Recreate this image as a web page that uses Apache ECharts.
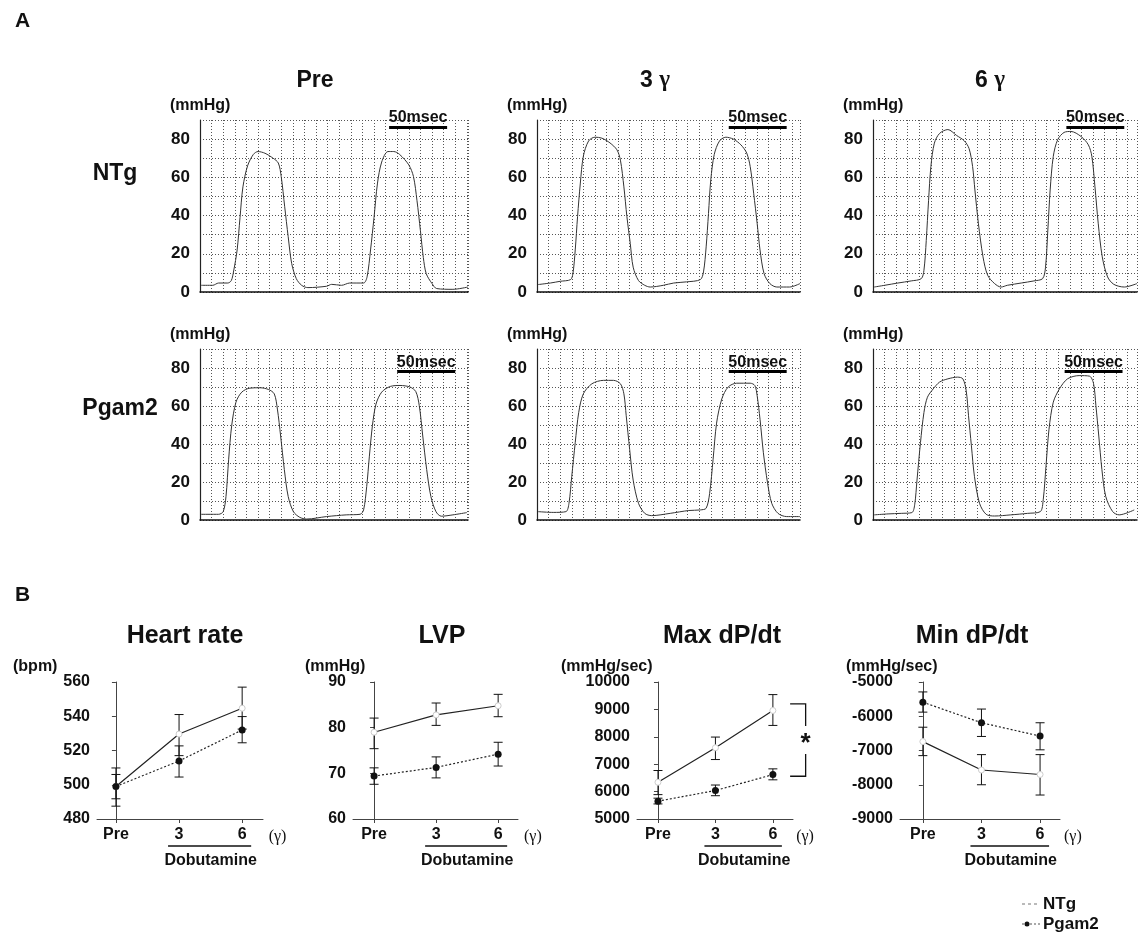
<!DOCTYPE html>
<html>
<head>
<meta charset="utf-8">
<script src="https://cdn.jsdelivr.net/npm/echarts@6/dist/echarts.min.js"></script>
<style>
  html, body { margin: 0; padding: 0; background: #fff; }
  #main { width: 1139px; height: 939px; }
</style>
</head>
<body>
<div id="main"></div>
<script>
// ---- Panel A: LV pressure traces, [msec, mmHg] ----
var ntgPre = [[1,3.5],[11,3.5],[16,4.7],[24,4.7],[27,6],[29,11],[32,22],[34.5,39],[37,55],[41,66],[46,72],[50,73.5],[56,72.6],[63,70],[67.5,67.5],[70,60.4],[73,44.6],[76,29],[79,15],[83,7],[87.6,3.5],[93,2.3],[109,3],[113.5,4],[122,3.5],[129,4.7],[141,4.7],[144,7.9],[147,22],[150,39],[153,57],[156.6,68],[162,73.5],[167,73.5],[172,72],[180,66.5],[184,60.4],[187,48],[190,32],[192.5,18],[195,9.6],[200,4.4],[204,1.8],[218,1.4],[231,2.6]];
var ntg3 = [[1,3.9],[11.5,4.7],[20,5.6],[29,6.5],[31,9.6],[33,22],[35,39.4],[37.4,57],[40,71],[44.5,79],[50,81],[56,80.5],[63,78],[69,74.4],[72,69],[75,55],[77.6,39.4],[80.5,25.4],[83,13],[87.6,6],[93,3.5],[97.7,2.6],[109,3.5],[118,4.7],[129,5.3],[141,6.5],[143.7,10.5],[146,23.6],[148,41],[150,58.7],[153,72],[157.5,79],[163,81],[169.5,80],[176,77],[181,72.7],[184,65.7],[187,51.7],[190,36],[192.5,22],[196,9.6],[201,4.4],[207,2.6],[218,2.6],[227,4.4]];
var ntg6 = [[1,2.6],[10,3.5],[21.5,4.7],[33,5.8],[41.7,7],[44,11.4],[46,27],[48,48],[50,65.7],[53,77.9],[57.5,83],[64.7,85],[72,82],[79,79],[83,75],[86,65.7],[88,53.4],[91,36],[95,18.4],[99,8.8],[105,4.4],[110.6,2.6],[116,3.5],[128,4.7],[139,5.8],[146.5,7],[149,13],[151,32.4],[153,53.4],[155.7,71],[159.5,79.7],[165,83.5],[171,84],[179.6,81.4],[186,77],[189,71],[191.7,55],[194.5,36],[198,18.4],[202.6,7.9],[208,4],[217,2.6],[228,4.4]];
var pgamPre = [[1,3],[16,3],[20,4.4],[22.4,12.4],[24.7,32],[27.3,49.6],[31,62],[36,67.3],[43,69.4],[51.7,69.6],[59,68.7],[64,66.4],[66.7,58.4],[69.5,44.2],[72.7,26.5],[76,12.4],[80.5,4.4],[86,1.4],[92,0.5],[109,1.8],[126,2.7],[138,3],[141,5.3],[143.7,17.7],[146,33.6],[148.6,49.6],[151.7,61],[156.6,67.3],[164,70.3],[172.4,70.8],[181,70],[186,67.6],[189,60.2],[192,44.2],[195.4,26.5],[199,12.4],[203.4,4.4],[208,2],[218,2.7],[230,3.9]];
var pgam3 = [[1,4.4],[14,4],[25,4.4],[27.6,8.8],[30,23],[33,40.7],[36,56.6],[40,66.4],[47.4,71.7],[57.5,73.5],[66,73.5],[72,71.7],[75,66.4],[77,54.9],[80,37],[83,21],[87.6,8.8],[93,3.5],[99,2.3],[115,3.5],[131,5],[141,5.3],[146,6.2],[149,14],[152,32],[155,51],[159.5,63.7],[165,70],[172.4,72],[184,72],[188,70.8],[190,65.5],[192.5,53],[195.4,35.4],[199,19.5],[202.6,8.8],[208,3.5],[215.5,1.8],[227,1.8]];
var pgam6 = [[1,2.7],[13,3.2],[24.4,3.5],[33.6,3.9],[36,8],[38,21],[41,40.7],[44,56.6],[47,64.6],[52,69],[57.5,72.6],[64.7,74.3],[73,75.2],[77.6,74.3],[80.5,68],[82.5,54.9],[85,39],[87.6,23],[92,8.8],[97.7,3],[105,2.1],[119,2.7],[133.6,3.5],[144.5,4.4],[147,10.6],[149.4,28.3],[152,47.8],[155.7,62],[161,69],[168,74.3],[178,76],[187,75.7],[190.5,71.7],[192.5,60.2],[195,44.2],[197.7,26.5],[201,12.4],[207,4.4],[212.6,2.7],[225.6,5.3]];

// ---- Panel B: hemodynamics, mean and error-bar ends ----
var doses = ['Pre', '3', '6'];
var hrNTg = [499, 529.6, 544.7], hrNTgLo = [487.5, 517, 532.5], hrNTgHi = [509.8, 541, 557];
var hrPgam = [499, 513.9, 532], hrPgamLo = [491.8, 504.5, 524.5], hrPgamHi = [506, 522.7, 539.8];
var lvpNTg = [79.0, 82.8, 84.8], lvpNTgLo = [75.4, 80.5, 82.4], lvpNTgHi = [82.1, 85.4, 87.3];
var lvpPgam = [69.4, 71.3, 74.2], lvpPgamLo = [67.6, 69.0, 71.6], lvpPgamHi = [71.2, 73.6, 76.8];
var maxNTg = [6340, 7600, 8960], maxNTgLo = [5890, 7170, 8415], maxNTgHi = [6770, 7990, 9540];
var maxPgam = [5650, 6040, 6620], maxPgamLo = [5550, 5850, 6430], maxPgamHi = [5760, 6240, 6830];
var minNTg = [-6740, -7570, -7700], minNTgLo = [-7150, -8000, -8300], minNTgHi = [-6320, -7120, -7120];
var minPgam = [-5590, -6190, -6580], minPgamLo = [-5880, -6590, -6980], minPgamHi = [-5290, -5790, -6190];

var FONT = '"Liberation Sans", Arial, sans-serif';
var chart = echarts.init(document.getElementById('main'));

var grids = [], xAxes = [], yAxes = [], series = [], titles = [];

// panel A layout
var colLeft = [200, 537, 873], colWidth = [268, 263, 264], colMax = [231, 227, 228];
var rowTop = [120, 349], rowHeight = [172, 171];
var traces = [[ntgPre, ntg3, ntg6], [pgamPre, pgam3, pgam6]];
var barStart = [[163, 165.5, 167], [170, 165.5, 165.5]];
var barLevel = [86.3, 78.3];

for (var r = 0; r < 2; r++) {
  for (var c = 0; c < 3; c++) {
    var gi = grids.length;
    grids.push({left: colLeft[c], top: rowTop[r], width: colWidth[c], height: rowHeight[r]});
    xAxes.push({
      type: 'value', gridIndex: gi, min: 0, max: colMax[c], interval: 10,
      axisLine: {lineStyle: {color: '#111', width: 1.5}}, axisTick: {show: false}, axisLabel: {show: false},
      splitLine: {show: true, lineStyle: {color: '#555', type: [1, 2], width: 1}}
    });
    yAxes.push({
      type: 'value', gridIndex: gi, min: 0, max: 90, interval: 10,
      axisLine: {show: true, lineStyle: {color: '#222', width: 1.2}}, axisTick: {show: false},
      axisLabel: {fontFamily: FONT, fontWeight: 'bold', fontSize: 17, color: '#111', margin: 10,
        formatter: function (v) { return v % 20 === 0 ? String(v) : ''; }},
      splitLine: {show: true, lineStyle: {color: '#555', type: [1, 2], width: 1}}
    });
    series.push({
      type: 'line', xAxisIndex: gi, yAxisIndex: gi, data: traces[r][c],
      symbol: 'none', smooth: 0.3, silent: true,
      lineStyle: {color: '#333', width: 1},
      markLine: {
        silent: true, symbol: 'none', animation: false,
        lineStyle: {color: '#000', width: 3, type: 'solid'},
        label: {show: true, position: 'insideMiddleTop', distance: 1, formatter: '50msec',
          fontFamily: FONT, fontWeight: 'bold', fontSize: 16, color: '#111'},
        data: [[{coord: [barStart[r][c], barLevel[r]]}, {coord: [barStart[r][c] + 50, barLevel[r]]}]]
      }
    });
  }
}

// panel B layout
var bLeft = [97, 353, 637, 900], bWidth = [166, 165, 156, 160];
var bMin = [-0.3, -0.34, -0.365, -0.39], bMax = [2.33, 2.32, 2.35, 2.34];
var yRange = [[480, 560, 20], [60, 90, 10], [5000, 10000, 1000], [-9000, -5000, 1000]];
var bData = [
  [hrNTg, hrNTgLo, hrNTgHi, hrPgam, hrPgamLo, hrPgamHi],
  [lvpNTg, lvpNTgLo, lvpNTgHi, lvpPgam, lvpPgamLo, lvpPgamHi],
  [maxNTg, maxNTgLo, maxNTgHi, maxPgam, maxPgamLo, maxPgamHi],
  [minNTg, minNTgLo, minNTgHi, minPgam, minPgamLo, minPgamHi]
];

function pts(vals) { return vals.map(function (v, i) { return [i, v]; }); }
function bars(lo, hi) { return lo.map(function (v, i) { return [i, v, hi[i]]; }); }
function errRender(params, api) {
  var x = api.value(0);
  var a = api.coord([x, api.value(2)]), b = api.coord([x, api.value(1)]);
  var w = 4.5, st = {stroke: '#111', lineWidth: 1};
  return {type: 'group', children: [
    {type: 'line', shape: {x1: a[0], y1: a[1], x2: b[0], y2: b[1]}, style: st},
    {type: 'line', shape: {x1: a[0] - w, y1: a[1], x2: a[0] + w, y2: a[1]}, style: st},
    {type: 'line', shape: {x1: b[0] - w, y1: b[1], x2: b[0] + w, y2: b[1]}, style: st}
  ]};
}

var bGrid0 = grids.length;
for (var k = 0; k < 4; k++) {
  var g = grids.length;
  grids.push({left: bLeft[k], top: 682, width: bWidth[k], height: 137});
  xAxes.push({
    type: 'value', gridIndex: g, min: bMin[k], max: bMax[k],
    axisLine: {lineStyle: {color: '#444', width: 1}},
    axisTick: {show: true, customValues: [0, 1, 2], length: 4, lineStyle: {color: '#444'}},
    axisLabel: {customValues: [0, 1, 2], fontFamily: FONT, fontWeight: 'bold', fontSize: 16, color: '#111', margin: 8,
      formatter: function (v) { return doses[Math.round(v)]; }},
    splitLine: {show: false}
  });
  yAxes.push({
    type: 'value', gridIndex: g, min: yRange[k][0], max: yRange[k][1], interval: yRange[k][2],
    axisLine: {show: true, lineStyle: {color: '#444', width: 1}},
    axisTick: {show: true, length: 4, lineStyle: {color: '#444'}},
    axisLabel: {fontFamily: FONT, fontWeight: 'bold', fontSize: 16, color: '#111', margin: 7,
      formatter: function (v) { return String(v); }},
    splitLine: {show: false}
  });
  var d = bData[k];
  series.push(
    {type: 'custom', name: 'NTg', xAxisIndex: g, yAxisIndex: g, data: bars(d[1], d[2]), renderItem: errRender, silent: true, z: 3},
    {type: 'custom', name: 'Pgam2', xAxisIndex: g, yAxisIndex: g, data: bars(d[4], d[5]), renderItem: errRender, silent: true, z: 3},
    {type: 'line', name: 'NTg', xAxisIndex: g, yAxisIndex: g, data: pts(d[0]),
      symbol: 'circle', symbolSize: 6, z: 4,
      itemStyle: {color: '#fff', borderColor: '#ccc', borderWidth: 1},
      lineStyle: {color: '#222', width: 1.2, type: 'solid'}},
    {type: 'line', name: 'Pgam2', xAxisIndex: g, yAxisIndex: g, data: pts(d[3]),
      symbol: 'circle', symbolSize: 7, z: 4,
      itemStyle: {color: '#111'},
      lineStyle: {color: '#222', width: 1.2, type: [2, 2]}}
  );
}

function T(text, x, y, size, align) {
  return {text: text, left: x, top: y, textAlign: align || 'left',
    textStyle: {fontFamily: FONT, fontWeight: 'bold', fontSize: size, color: '#111'}};
}
titles.push(T('A', 10, 6, 21), T('B', 10, 580, 21));
titles.push(T('Pre', 310, 64, 23, 'center'));
[['3', 650], ['6', 985]].forEach(function (p) {
  titles.push({text: '{a|' + p[0] + ' }{g|γ}', left: p[1], top: 64, textAlign: 'center',
    textStyle: {rich: {a: {fontFamily: FONT, fontWeight: 'bold', fontSize: 23, color: '#111'},
      g: {fontFamily: '"Liberation Serif", serif', fontSize: 23, color: '#111'}}}});
});
titles.push(T('NTg', 110, 157, 23, 'center'), T('Pgam2', 115, 392, 23, 'center'));
for (var r2 = 0; r2 < 2; r2++) for (var c2 = 0; c2 < 3; c2++)
  titles.push(T('(mmHg)', colLeft[c2] - 35, rowTop[r2] - 27, 16));
titles.push(T('Heart rate', 180, 619, 25, 'center'), T('LVP', 437, 619, 25, 'center'),
  T('Max dP/dt', 717, 619, 25, 'center'), T('Min dP/dt', 967, 619, 25, 'center'));
titles.push(T('(bpm)', 8, 654, 16), T('(mmHg)', 300, 654, 16),
  T('(mmHg/sec)', 556, 654, 16), T('(mmHg/sec)', 841, 654, 16));

chart.setOption({
  animation: false,
  title: titles,
  grid: grids, xAxis: xAxes, yAxis: yAxes, series: series
});

// axis annotations for panel B, placed through the axes
var gfx = [];
function txt(x, y, s, opts) {
  return Object.assign({type: 'text', x: x, y: y, silent: true,
    style: {text: s, fontFamily: FONT, fontWeight: 'bold', fontSize: 16, fill: '#111', align: 'center', verticalAlign: 'middle'}}, opts || {});
}
for (var m = 0; m < 4; m++) {
  var gi2 = bGrid0 + m;
  var y0 = yRange[m][0];
  var p3 = chart.convertToPixel({gridIndex: gi2}, [1, y0]);
  var p6 = chart.convertToPixel({gridIndex: gi2}, [2, y0]);
  var pg = chart.convertToPixel({gridIndex: gi2}, [2.56, y0]);
  gfx.push({type: 'line', silent: true, shape: {x1: p3[0] - 11, y1: p3[1] + 27, x2: p6[0] + 9, y2: p3[1] + 27},
    style: {stroke: '#111', lineWidth: 1.5}});
  gfx.push(txt((p3[0] + p6[0]) / 2, p3[1] + 42, 'Dobutamine'));
  gfx.push({type: 'text', x: pg[0], y: pg[1] + 18, silent: true,
    style: {text: '(γ)', fontFamily: '"Liberation Serif", serif', fontSize: 16, fill: '#111', align: 'center', verticalAlign: 'middle'}});
}
// significance bracket on Max dP/dt
var gMax = bGrid0 + 2;
var bt = chart.convertToPixel({gridIndex: gMax}, [2.57, 9200]);
var bb = chart.convertToPixel({gridIndex: gMax}, [2.57, 6560]);
var bl = chart.convertToPixel({gridIndex: gMax}, [2.3, 9200]);
var mid = (bt[1] + bb[1]) / 2;
var bs = {stroke: '#111', lineWidth: 1.3};
gfx.push({type: 'polyline', silent: true, shape: {points: [[bl[0], bt[1]], [bt[0], bt[1]], [bt[0], mid - 14]]}, style: Object.assign({fill: null}, bs)});
gfx.push({type: 'polyline', silent: true, shape: {points: [[bl[0], bb[1]], [bb[0], bb[1]], [bb[0], mid + 14]]}, style: Object.assign({fill: null}, bs)});
gfx.push(txt(bt[0], mid + 4, '*', {style: {text: '*', fontFamily: FONT, fontWeight: 'bold', fontSize: 26, fill: '#111', align: 'center', verticalAlign: 'middle'}}));

// key, bottom right
gfx.push({type: 'line', silent: true, shape: {x1: 1022, y1: 904, x2: 1040, y2: 904}, style: {stroke: '#777', lineWidth: 1, lineDash: [3, 3]}});
gfx.push({type: 'line', silent: true, shape: {x1: 1022, y1: 924, x2: 1040, y2: 924}, style: {stroke: '#555', lineWidth: 1, lineDash: [2, 2]}});
gfx.push({type: 'circle', silent: true, shape: {cx: 1027, cy: 924, r: 2.5}, style: {fill: '#111'}});
gfx.push(txt(1043, 904, 'NTg', {style: {text: 'NTg', fontFamily: FONT, fontWeight: 'bold', fontSize: 17, fill: '#111', align: 'left', verticalAlign: 'middle'}}));
gfx.push(txt(1043, 924, 'Pgam2', {style: {text: 'Pgam2', fontFamily: FONT, fontWeight: 'bold', fontSize: 17, fill: '#111', align: 'left', verticalAlign: 'middle'}}));

chart.setOption({graphic: gfx});
</script>
</body>
</html>
